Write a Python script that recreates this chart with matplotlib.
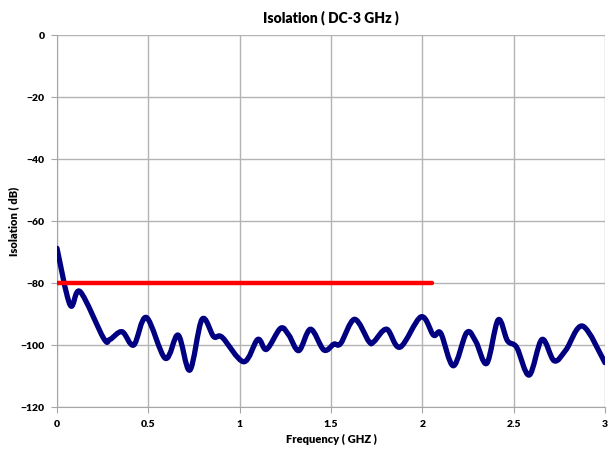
import matplotlib
matplotlib.use("Agg")
import matplotlib.pyplot as plt
import numpy as np
from matplotlib.path import Path
from matplotlib.patches import PathPatch

# isolation curve (GHz, dB)
freq = [0.0, 0.072, 0.127, 0.255, 0.29, 0.356, 0.42, 0.489, 0.593, 0.663,
        0.727, 0.794, 0.858, 0.904, 1.022, 1.099, 1.147, 1.224, 1.269, 1.324,
        1.388, 1.461, 1.516, 1.553, 1.629, 1.708, 1.735, 1.805, 1.878, 1.993,
        2.061, 2.101, 2.17, 2.243, 2.293, 2.353, 2.415, 2.466, 2.517, 2.585,
        2.655, 2.722, 2.786, 2.878, 3.0]
isol = [-68.8, -87.1, -82.8, -97.8, -98.2, -95.7, -100.0, -91.1, -104.3, -96.8,
        -108.1, -91.7, -97.3, -97.5, -105.4, -98.2, -101.4, -94.6, -96.8, -101.8,
        -94.9, -101.6, -99.7, -99.5, -91.7, -98.9, -98.9, -94.9, -100.7, -90.9,
        -96.8, -96.2, -106.7, -96.0, -98.9, -105.9, -91.9, -98.6, -100.8, -109.7,
        -98.2, -105.1, -101.6, -93.9, -105.7]

# spec limit line
spec_freq = [0.0, 2.055]
spec_val = [-80, -80]

xticks = [0, 0.5, 1, 1.5, 2, 2.5, 3]
xticklabels = ["0", "0.5", "1", "1.5", "2", "2.5", "3"]
yticks = [0, -20, -40, -60, -80, -100, -120]

plt.rcParams['font.family'] = ['Lato', 'DejaVu Sans']

fig = plt.figure(figsize=(6.09, 4.49), dpi=100)
ax = fig.add_axes([0.0936, 0.0935, 0.8998, 0.8285])

# smoothed line like excel: bezier path through the points (catmull-rom style)
x = np.array(freq)
y = np.array(isol)
verts = [(x[0], y[0])]
codes = [Path.MOVETO]
n = len(x)
for i in range(n - 1):
    x0, y0 = (x[i - 1], y[i - 1]) if i > 0 else (x[i], y[i])
    x3, y3 = (x[i + 2], y[i + 2]) if i + 2 < n else (x[i + 1], y[i + 1])
    c1 = (x[i] + (x[i + 1] - x0) / 6, y[i] + (y[i + 1] - y0) / 6)
    c2 = (x[i + 1] - (x3 - x[i]) / 6, y[i + 1] - (y3 - y[i]) / 6)
    verts += [c1, c2, (x[i + 1], y[i + 1])]
    codes += [Path.CURVE4, Path.CURVE4, Path.CURVE4]
patch = PathPatch(Path(verts, codes), facecolor="none", edgecolor="#000080",
                  lw=3.8, capstyle="round", joinstyle="round", zorder=3)
ax.add_patch(patch)

ax.plot(spec_freq, spec_val, color="#ff0000", lw=3.2, solid_capstyle="round", zorder=4)

ax.set_xlim(0, 3)
ax.set_ylim(-120, 0)
ax.set_xticks(xticks)
ax.set_xticklabels(xticklabels)
ax.set_yticks(yticks)
ax.grid(True, color="#b3b3b3", lw=1)
ax.set_axisbelow(True)
for s in ["top", "right"]:
    ax.spines[s].set_visible(False)
for s in ["left", "bottom"]:
    ax.spines[s].set_color("#a6a6a6")
ax.tick_params(length=4, color="#a6a6a6", labelsize=7.5, pad=5)
for lab in ax.get_xticklabels() + ax.get_yticklabels():
    lab.set_fontweight("heavy")

ax.set_title("Isolation ( DC-3 GHz )", fontsize=10, fontweight="heavy", pad=9)
ax.set_xlabel("Frequency ( GHZ )", fontsize=8, fontweight="heavy", labelpad=4)
ax.set_ylabel("Isolation ( dB)", fontsize=8, fontweight="heavy", labelpad=1)

fig.savefig("out.png", dpi=100)
